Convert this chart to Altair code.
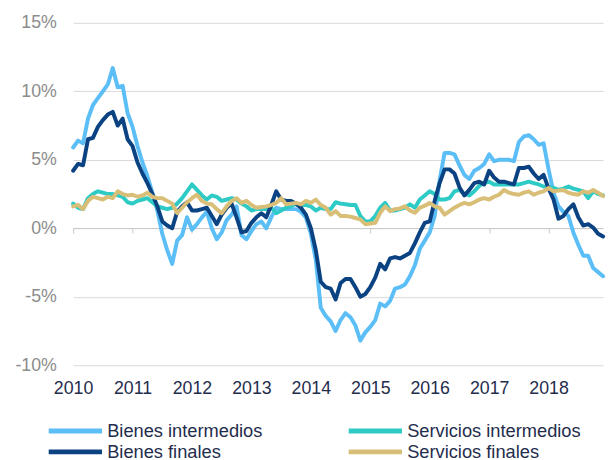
import altair as alt
import pandas as pd

# ---- data (monthly, Jan 2010 .. Dec 2018) ----
year_labels = ["2010", "2011", "2012", "2013", "2014", "2015", "2016", "2017", "2018"]
month_index = list(range(108))

bienes_intermedios = [
    5.9, 6.4, 6.2, 8.0, 9.0, 9.5, 10.0, 10.5, 11.7, 10.3, 10.4, 8.4,
    7.4, 6.0, 4.8, 3.8, 2.6, 1.3, -0.4, -1.6, -2.6, -0.9, -0.5, 0.8,
    -0.1, 0.3, 0.8, 1.2, 0.0, -0.8, -0.3, 0.6, 1.0, 1.6, -0.5, -0.8,
    -0.2, 0.3, 0.5, 0.0, 0.8, 1.5, 1.4, 1.4, 1.4, 1.4, 1.2, 0.8,
    -0.4, -2.3, -5.8, -6.4, -6.8, -7.5, -6.7, -6.2, -6.5, -7.1, -8.2, -7.6,
    -7.2, -6.7, -5.5, -5.7, -5.3, -4.4, -4.3, -4.1, -3.5, -2.7, -1.5, -0.9,
    -0.3, 0.9, 3.5, 5.5, 5.5, 5.4, 4.6, 3.9, 3.6, 4.2, 4.4, 4.7,
    5.4, 4.9, 5.0, 5.0, 5.0, 4.9, 6.3, 6.7, 6.8, 6.5, 6.1, 6.2,
    4.3, 2.6, 1.6, 1.2, 0.9, -0.3, -1.2, -2.0, -2.0, -2.9, -3.2, -3.5,
]
bienes_finales = [
    4.2, 4.7, 4.6, 6.5, 6.6, 7.4, 7.9, 8.3, 8.5, 7.5, 8.0, 6.5,
    6.0, 4.8, 4.0, 3.3, 2.5, 1.6, 0.5, 0.2, 0.0, 1.2, 1.6, 1.9,
    1.3, 1.3, 1.4, 1.5, 0.9, 0.3, 1.0, 1.5, 1.8, 0.8, -0.3, -0.2,
    0.4, 0.8, 1.1, 0.8, 1.7, 2.7, 2.1, 2.0, 2.0, 1.8, 1.5, 1.0,
    0.0, -1.6, -3.9, -4.3, -4.4, -5.2, -4.0, -3.7, -3.7, -4.3, -5.0, -4.8,
    -4.3, -3.6, -2.6, -3.0, -2.2, -2.1, -2.2, -2.0, -1.8, -1.1, -0.3, 0.4,
    0.5, 2.0, 3.3, 4.3, 4.3, 4.0, 3.0, 2.4, 2.8, 3.3, 3.4, 3.2,
    4.2, 3.7, 3.4, 3.4, 3.3, 3.2, 4.4, 4.4, 4.5, 4.0, 3.6, 3.9,
    2.9, 2.1, 0.7, 0.9, 1.4, 1.75, 0.8, 0.2, 0.3, 0.05, -0.4, -0.6,
]
servicios_intermedios = [
    1.8, 1.5, 1.4, 2.2, 2.5, 2.7, 2.6, 2.5, 2.5, 2.4, 2.3, 1.9,
    1.8, 2.0, 2.1, 2.2, 1.9, 1.6, 1.5, 1.4, 1.5, 1.8, 2.2, 2.7,
    3.2, 2.8, 2.4, 2.1, 2.4, 2.3, 2.0, 2.1, 2.2, 2.1, 1.8, 1.6,
    1.3, 1.4, 1.4, 1.4, 1.5, 1.1, 1.3, 1.5, 1.6, 1.8, 1.7, 1.7,
    1.6, 1.3, 1.5, 1.4, 1.4, 1.9, 1.8, 1.75, 1.7, 1.7, 0.9, 0.5,
    0.5, 0.9, 1.5, 1.85, 1.3, 1.3, 1.4, 1.5, 1.75, 1.5, 2.1, 2.4,
    2.7, 2.5, 2.1, 2.1, 2.2, 2.7, 2.8, 2.5, 2.4, 2.7, 3.1, 3.3,
    3.4, 3.2, 3.2, 3.2, 3.2, 3.2, 3.2, 3.3, 3.4, 3.3, 3.2, 3.05,
    3.0, 2.95, 2.8, 2.9, 3.05, 2.9, 2.8, 2.7, 2.2, 2.7, 2.5, 2.4,
]
servicios_finales = [
    1.6, 1.7, 1.4, 2.0, 2.3, 2.2, 2.1, 2.3, 2.2, 2.7, 2.5, 2.4,
    2.45, 2.3, 2.4, 2.6, 2.3, 2.2, 2.2, 2.0, 1.8, 1.1, 1.5, 1.9,
    2.2, 2.45, 2.0, 1.8, 1.75, 1.4, 1.1, 1.6, 2.0, 2.2, 1.85, 2.0,
    1.7, 1.5, 1.55, 1.6, 1.7, 1.85, 2.2, 1.75, 1.8, 1.85, 1.75, 2.0,
    1.85, 2.1, 1.7, 1.5, 1.0, 1.25, 0.9, 0.9, 0.85, 0.75, 0.65, 0.3,
    0.35, 0.4, 1.13, 1.6, 1.25, 1.4, 1.45, 1.6, 1.3, 1.13, 1.5, 1.65,
    1.85, 1.6, 1.5, 1.0, 1.25, 1.5, 1.7, 1.85, 1.75, 1.9, 2.1, 2.2,
    2.1, 2.3, 2.45, 2.8, 2.6, 2.5, 2.45, 2.6, 2.7, 2.45, 2.6, 2.7,
    2.95, 2.7, 2.75, 2.8, 2.6, 2.5, 2.45, 2.7, 2.6, 2.8, 2.6, 2.35,
]

series_names = ["Bienes intermedios", "Servicios intermedios", "Bienes finales", "Servicios finales"]
series_values = [bienes_intermedios, servicios_intermedios, bienes_finales, servicios_finales]
series_colors = ["#5BBEF7", "#2ECBC6", "#0A4282", "#D8BE76"]
y_ticks = [-10, -5, 0, 5, 10, 15]
x_ticks = [12 * k for k in range(len(year_labels))]

rows = []
for name, vals in zip(series_names, series_values):
    for m, v in zip(month_index, vals):
        rows.append({"mes": m, "valor": v, "serie": name})
df = pd.DataFrame(rows)

FONT = "Liberation Sans, Arial"
NAVY = "#1F2D4D"
GRID = "#D9D9D9"

x_scale = alt.Scale(domain=[0, 107], nice=False, zero=False)
y_scale = alt.Scale(domain=[-10, 15], nice=False)

label_expr_years = "'' + (2010 + datum.value / 12)"

# wide line-shaped legend symbol inside a small layout box (keeps rows compact)
legend_symbol_path = "M-1,0L9.8,0"

lines = alt.Chart(df).mark_line(strokeWidth=4, strokeJoin="round", strokeCap="round").encode(
    x=alt.X("mes:Q", scale=x_scale,
            axis=alt.Axis(values=x_ticks, labelExpr=label_expr_years, grid=False, ticks=False,
                          domain=False, labelPadding=15, labelFontSize=18, labelColor=NAVY,
                          labelFont=FONT, title=None, orient="bottom", labelFlush=False)),
    y=alt.Y("valor:Q", scale=y_scale,
            axis=alt.Axis(values=y_ticks, labelExpr="datum.value + '%'", grid=True, gridColor=GRID,
                          gridWidth=1, ticks=False, domain=False, labelPadding=17, labelFontSize=18,
                          labelColor="#8C8C8C", labelFont=FONT, title=None)),
    color=alt.Color("serie:N", scale=alt.Scale(domain=series_names, range=series_colors),
                    legend=alt.Legend(title=None, orient="none", legendX=-29, legendY=404,
                                      direction="horizontal", columns=2, columnPadding=77,
                                      rowPadding=0.5, symbolType=legend_symbol_path, symbolSize=100,
                                      symbolStrokeWidth=5, labelFontSize=18.5, labelColor=NAVY,
                                      labelFont=FONT, labelOffset=45, labelLimit=400, padding=0)),
)

zero_axis = alt.Chart(df).mark_line(opacity=0).encode(
    x=alt.X("mes:Q", scale=x_scale,
            axis=alt.Axis(values=x_ticks, labels=False, ticks=True, tickSize=5, tickColor="#C8C8C8",
                          domain=True, domainColor="#C8C8C8", grid=False, title=None,
                          orient="bottom", offset=-139)),
    y=alt.Y("valor:Q", scale=y_scale),
    detail="serie:N",
)

chart = alt.layer(lines, zero_axis).resolve_axis(x="independent").properties(
    width=537, height=347,
    autosize=alt.AutoSizeParams(type="none"),
    padding={"left": 66, "top": 12, "right": 4, "bottom": 94},
).configure_view(stroke=None)

chart.save("out.html", embed_options={"renderer": "svg", "actions": False})
